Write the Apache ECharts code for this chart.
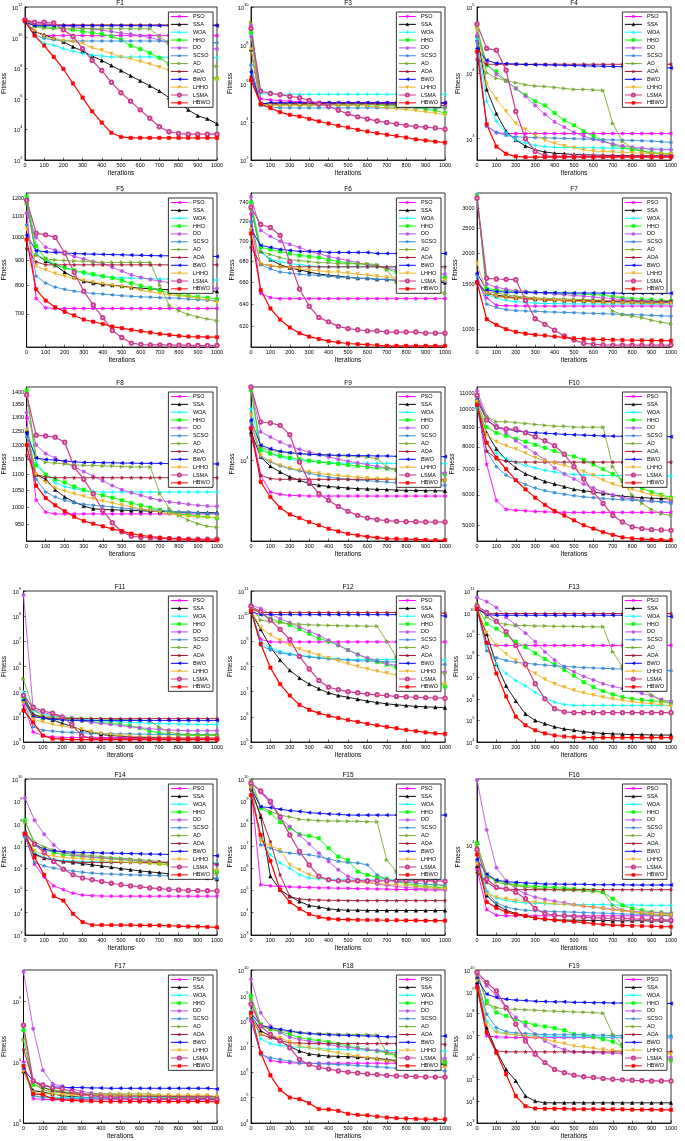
<!DOCTYPE html>
<html>
<head>
<meta charset="utf-8">
<title>Convergence curves F1-F19</title>
<script src="https://cdn.jsdelivr.net/npm/echarts@6/dist/echarts.min.js"></script>
<style>
html,body{margin:0;padding:0;background:#fff;}
#main{width:685px;height:1141px;}
</style>
</head>
<body>
<div id="main"></div>
<script>
// iterations sampled every 50 steps (one marker per point)
var iterations = [0,50,100,150,200,250,300,350,400,450,500,550,600,650,700,750,800,850,900,950,1000];
var algorithms = ['PSO','SSA','WOA','HHO','DO','SCSO','AO','AOA','BWO','LHHO','LSMA','HBWO'];
var panelNames = ['F1','F3','F4','F5','F6','F7','F8','F9','F10','F11','F12','F13','F14','F15','F16','F17','F18','F19'];

// y axis limits and tick labels of every panel
var yRange = [[1e2,1e12],[1e2,1e10],[475,1e5],[600,1230],[602,750],[850,3460],[905,1423],[2900,30800],[4550,11450],
              [1e3,1e9],[1e5,1e11],[1e4,1e11],[1e3,1e10],[1e3,1e10],[2050,31600],[1e3,3.2e5],[1e4,1e10],[1e3,1e10]];
var yTicks = [
  [1e2,1e4,1e6,1e8,1e10,1e12],
  [1e2,1e4,1e6,1e8,1e10],
  [1e3,1e4,1e5],
  [700,800,900,1000,1100,1200],
  [620,640,660,680,700,720,740],
  [1000,1500,2000,2500,3000],
  [950,1000,1050,1100,1150,1200,1250,1300,1350,1400],
  [1e4],
  [5000,6000,7000,8000,9000,10000,11000],
  [1e3,1e4,1e5,1e6,1e7,1e8,1e9],
  [1e5,1e6,1e7,1e8,1e9,1e10,1e11],
  [1e4,1e5,1e6,1e7,1e8,1e9,1e10,1e11],
  [1e3,1e4,1e5,1e6,1e7,1e8,1e9,1e10],
  [1e3,1e4,1e5,1e6,1e7,1e8,1e9,1e10],
  [1e4],
  [1e3,1e4,1e5],
  [1e4,1e5,1e6,1e7,1e8,1e9,1e10],
  [1e3,1e4,1e5,1e6,1e7,1e8,1e9,1e10]
];

// fitness values, order: PSO, SSA, WOA, HHO, DO, SCSO, AO, AOA, BWO, LHHO, LSMA, HBWO
var F1 = [
  [1.5e11,2.5e10,1.4e10,1.35e10,1.35e10,1.35e10,1.35e10,1.35e10,1.35e10,1.35e10,1.35e10,1.35e10,1.35e10,1.35e10,1.35e10,1.35e10,1.35e10,1.35e10,1.35e10,1.35e10,1.35e10],
  [1.2e11,2.5e10,1.5e10,9e9,5.4e9,2.5e9,1.3e9,6.3e8,3.2e8,1.5e8,7e7,3.2e7,1.5e7,7e6,3.2e6,1.2e6,5.4e5,1.9e5,7.8e4,4.9e4,2.3e4],
  [1.2e11,1.5e10,4.2e9,3.2e9,1.9e9,1.3e9,9e8,7e8,6.3e8,5.4e8,5.4e8,5.4e8,5.4e8,5.4e8,5.2e8,5.2e8,5.2e8,5e8,5e8,5e8,4.9e8],
  [1.2e11,6e10,5e10,4.6e10,4e10,3.3e10,2.5e10,2.1e10,1.7e10,1.2e10,7.5e9,3e9,1.8e9,1e9,4.8e8,1.9e8,1.2e8,7e7,4.9e7,3.2e7,2.1e7],
  [1.5e11,9e10,8e10,7e10,6e10,5.5e10,4.2e10,3.6e10,3.1e10,2.5e10,2e10,1.7e10,1.35e10,1e10,7e9,4.2e9,3.2e9,2.5e9,2.1e9,1.9e9,1.8e9],
  [1.2e11,1.5e10,9e9,7e9,6.3e9,6e9,6e9,6e9,6e9,6e9,6e9,6e9,6e9,6e9,6e9,5.8e9,5.6e9,5.4e9,5.2e9,5e9,4.6e9],
  [1.5e11,5.2e10,4.2e10,3.8e10,3.8e10,3.8e10,3.8e10,3.8e10,3.8e10,3.8e10,3.8e10,3.8e10,3.8e10,3.8e10,1.2e10,4.2e9,1.2e9,4.2e8,2.5e8,1.7e8,1.3e8],
  [1.5e11,6.8e10,6.8e10,6.8e10,6.8e10,6.8e10,6.8e10,6.8e10,6.8e10,6.8e10,6.8e10,6.8e10,6.8e10,6.8e10,6.8e10,6.8e10,6.8e10,6.8e10,6.8e10,6.8e10,6.8e10],
  [1e11,6e10,6e10,6e10,6e10,6e10,6e10,6e10,6e10,6e10,6e10,6e10,6e10,6e10,6e10,6e10,6e10,6e10,6e10,6e10,6e10],
  [1.2e11,2.8e10,1.2e10,8e9,6.3e9,5.4e9,4.2e9,2.1e9,1.5e9,9e8,5.4e8,4.2e8,2.8e8,1.9e8,1.2e8,7e7,4.9e7,4.2e7,3.2e7,2.5e7,1.9e7],
  [1.5e11,1e11,1e11,9e10,3.2e10,1.2e10,1.9e9,3.2e8,7e7,1.2e7,2.5e6,7e5,1.9e5,5.4e4,1.5e4,7e3,5.4e3,4.9e3,4.9e3,4.9e3,4.9e3],
  [1.2e11,1.35e10,3e9,5.4e8,9e7,1e7,1.2e6,1.5e5,2.8e4,6e3,3.2e3,2.8e3,2.8e3,2.8e3,2.8e3,2.8e3,2.8e3,2.8e3,2.8e3,2.8e3,2.8e3]
];
var F3 = [
  [3.2e8,1.6e5,1.4e5,1.26e5,1.2e5,1.1e5,1.05e5,1.05e5,1e5,1e5,1e5,1e5,1e5,1e5,1e5,9.8e4,9.8e4,9.6e4,9.6e4,9.5e4,9.5e4],
  [6e7,9e4,8.5e4,8.5e4,8.5e4,8.5e4,8.5e4,8.5e4,8.5e4,8.5e4,8.5e4,8.5e4,8.5e4,8.5e4,8.2e4,8e4,7.8e4,7.6e4,7.4e4,7.2e4,7e4],
  [3.8e8,3e5,2.75e5,2.75e5,2.75e5,2.75e5,2.75e5,2.75e5,2.75e5,2.75e5,2.75e5,2.75e5,2.75e5,2.75e5,2.75e5,2.75e5,2.75e5,2.75e5,2.75e5,2.75e5,2.75e5],
  [4.7e8,8.5e4,7.8e4,7.8e4,7.8e4,7.8e4,7.8e4,7.8e4,7.8e4,7.8e4,7.8e4,7.8e4,7.8e4,7.5e4,7e4,6.5e4,5.9e4,5.3e4,4.6e4,3.9e4,2.8e4],
  [1.1e9,9e4,8.2e4,8.2e4,8.2e4,8.2e4,8.2e4,8.2e4,8.2e4,8.2e4,8.2e4,8.2e4,8.2e4,8.2e4,8.2e4,8.2e4,8.2e4,8.2e4,8.2e4,7.5e4,7e4],
  [9.5e6,7e4,6e4,5.3e4,5.3e4,5.3e4,5.3e4,5.3e4,5.3e4,5.3e4,5.3e4,5.3e4,5.3e4,5.3e4,5.3e4,5.3e4,5.3e4,5.3e4,5.3e4,5.3e4,5.3e4],
  [1.55e9,8.5e4,8.5e4,8.5e4,8.5e4,8.5e4,8.5e4,8.5e4,8.5e4,8.5e4,8.5e4,8.5e4,8.5e4,8.5e4,7.5e4,7e4,6.5e4,6.2e4,5.9e4,5.6e4,5.3e4],
  [2.2e6,9e4,9e4,9e4,9e4,9e4,9e4,9e4,9e4,9e4,9e4,9e4,9e4,9e4,9e4,9e4,9e4,9e4,9e4,9e4,9e4],
  [4e6,8.5e4,1e5,1e5,1e5,1e5,1e5,1e5,1e5,1e5,1e5,1e5,1e5,1e5,1e5,1e5,1e5,1e5,1e5,1e5,1e5],
  [6.2e7,7.8e4,7e4,7e4,7e4,7e4,7e4,7e4,7e4,7e4,7e4,7e4,6.5e4,6e4,5.3e4,4.8e4,4.3e4,3.8e4,3.3e4,2.8e4,2.3e4],
  [7.6e8,4e5,3e5,2.6e5,2.1e5,1.8e5,1.3e5,8.5e4,6.5e4,4e4,2.6e4,1.8e4,1.4e4,1.1e4,9.1e3,7.6e3,6.5e3,5.6e3,5.2e3,4.7e3,4.1e3],
  [1.5e6,8.5e4,5.2e4,3.2e4,2.3e4,1.9e4,1.4e4,1.05e4,8.1e3,6.2e3,5e3,3.8e3,3.1e3,2.5e3,2.1e3,1.8e3,1.5e3,1.2e3,1.05e3,910,810]
];
var F4 = [
  [3e4,1550,1230,1200,1200,1200,1200,1200,1200,1200,1200,1200,1200,1200,1200,1200,1200,1200,1200,1200,1200],
  [3.7e4,5.6e3,2.4e3,1.3e3,955,775,675,630,600,590,575,570,565,560,558,555,553,552,551,550,550],
  [3.3e4,3.7e3,1.85e3,1.23e3,955,860,790,760,740,735,735,730,730,725,720,715,710,705,700,695,690],
  [5e4,1.3e4,1.05e4,7.6e3,5.8e3,4.6e3,3.7e3,3.2e3,2.45e3,1.9e3,1.6e3,1.3e3,1.1e3,930,810,740,680,650,620,600,590],
  [3.7e4,1.4e4,9.5e3,7.6e3,5.8e3,4.4e3,3.2e3,2.35e3,1.8e3,1.5e3,1.25e3,1.1e3,980,910,830,780,740,720,690,680,680],
  [3e4,1.55e3,1.25e3,1.12e3,1.07e3,1.05e3,1.04e3,1.03e3,1.02e3,1.01e3,1e3,990,980,970,960,950,940,930,920,900,880],
  [5e4,1e4,8.3e3,7.6e3,7.1e3,6.6e3,6.3e3,6.2e3,6e3,5.8e3,5.6e3,5.6e3,5.5e3,5.4e3,1.7e3,910,720,650,600,590,575],
  [1.6e4,1.35e4,1.35e4,1.35e4,1.35e4,1.35e4,1.35e4,1.35e4,1.35e4,1.35e4,1.35e4,1.35e4,1.35e4,1.35e4,1.35e4,1.35e4,1.35e4,1.35e4,1.35e4,1.35e4,1.35e4],
  [2.35e4,1.55e4,1.4e4,1.38e4,1.36e4,1.34e4,1.33e4,1.32e4,1.31e4,1.3e4,1.29e4,1.28e4,1.27e4,1.26e4,1.25e4,1.24e4,1.23e4,1.22e4,1.21e4,1.2e4,1.19e4],
  [4.7e4,6.8e3,4e3,2.6e3,1.7e3,1.38e3,1.12e3,950,850,780,730,680,650,640,630,620,610,600,590,585,580],
  [5.5e4,2.35e4,2.2e4,1.1e4,2.6e3,1e3,640,550,540,540,540,540,540,540,540,540,540,540,540,540,540],
  [2.1e4,1.65e3,760,590,540,525,525,525,525,525,525,525,525,525,525,525,525,525,525,525,525]
];
var F5 = [
  [1120,752,720,718,718,718,718,718,718,718,718,718,718,718,718,718,718,718,718,718,718],
  [1180,925,895,878,850,830,815,808,803,800,797,792,789,787,785,784,782,781,780,779,778],
  [1180,925,900,880,870,855,845,838,833,830,828,827,826,825,824,823,822,821,821,820,820],
  [1210,960,905,880,868,858,850,843,835,828,818,808,798,790,780,772,766,762,758,755,750],
  [1120,1000,955,942,930,915,905,893,885,870,855,840,830,822,815,810,805,800,797,792,788],
  [1060,835,808,793,785,778,774,770,768,765,762,760,758,757,755,754,753,750,748,746,745],
  [1170,920,905,900,898,896,895,892,890,890,890,890,890,890,800,728,710,698,690,684,678],
  [950,892,880,880,880,880,880,880,880,880,880,880,880,880,880,880,880,880,880,880,880],
  [1010,940,935,932,930,928,926,925,924,923,922,921,920,919,918,918,917,917,916,916,915],
  [1040,875,860,845,835,825,818,812,806,800,795,790,782,776,770,765,762,758,752,748,740],
  [1190,1020,1012,1000,930,850,778,730,688,648,627,611,607,606,606,605,605,605,604,604,604],
  [990,785,745,722,707,695,682,675,668,660,655,650,646,642,638,635,632,630,629,628,628]
];
var F6 = [
  [728,650,646,645,645,645,645,645,645,645,645,645,645,645,645,645,645,645,645,645,645],
  [735,690,682,677,674,672,670,668,667,666,665,664,664,663,663,662,662,661,661,660,660],
  [735,690,682,680,678,677,676,675,675,675,675,675,675,675,675,675,675,675,675,675,675],
  [740,694,692,690,688,686,685,684,682,680,679,678,677,676,673,670,668,667,666,665,665],
  [746,711,705,700,697,694,690,688,685,683,681,679,677,676,674,672,671,670,669,668,668],
  [720,677,673,670,669,668,667,667,666,665,665,664,664,663,663,662,662,662,661,661,661],
  [733,690,687,684,682,681,680,679,679,678,678,678,678,677,672,660,657,655,653,651,650],
  [694,678,676,675,675,675,675,675,675,675,675,675,675,675,675,675,675,675,675,675,675],
  [712,696,694,692,691,690,690,690,689,689,689,689,689,688,688,688,688,688,688,688,688],
  [712,678,676,675,674,673,672,671,670,670,669,668,667,666,665,664,664,663,663,662,662],
  [735,717,714,706,680,654,638,628,624,620,618,617,616,616,615,615,615,615,614,614,614],
  [708,653,636,626,619,614,611,609,607,606,605,604.5,604,603.5,603,603,603,603,603,603,603]
];
var F7 = [
  [1540,1330,1242,1238,1236,1235,1235,1235,1235,1235,1235,1235,1235,1235,1235,1235,1235,1235,1235,1235,1235],
  [1540,1380,1362,1348,1330,1322,1312,1305,1300,1297,1293,1290,1287,1285,1283,1282,1281,1280,1280,1279,1279],
  [3430,1370,1330,1300,1285,1275,1268,1264,1262,1260,1259,1258,1258,1257,1257,1256,1256,1256,1255,1255,1255],
  [3340,1450,1430,1420,1410,1405,1400,1395,1390,1385,1380,1375,1370,1365,1345,1330,1320,1315,1310,1300,1295],
  [3300,1510,1465,1440,1420,1410,1400,1390,1380,1370,1360,1350,1340,1330,1320,1310,1300,1295,1290,1285,1280],
  [1640,1255,1220,1195,1185,1180,1177,1172,1168,1165,1162,1158,1155,1152,1148,1145,1142,1138,1135,1130,1125],
  [3400,1410,1390,1370,1350,1340,1330,1323,1320,1316,1313,1310,1306,1302,1180,1140,1125,1110,1085,1065,1050],
  [1530,1400,1350,1338,1330,1322,1315,1310,1305,1302,1300,1298,1296,1295,1294,1293,1292,1291,1290,1290,1290],
  [1665,1430,1410,1402,1398,1396,1395,1394,1393,1392,1391,1390,1390,1389,1389,1388,1388,1388,1387,1387,1387],
  [1830,1390,1350,1330,1322,1318,1312,1305,1300,1295,1290,1285,1280,1276,1272,1270,1268,1265,1263,1261,1260],
  [3300,1590,1580,1575,1570,1300,1100,1045,990,940,905,880,870,866,865,865,865,865,865,865,865],
  [1530,1095,1040,1000,975,960,950,944,935,928,920,916,912,910,908,906,904,903,902,901,900]
];
var F8 = [
  [1300,1020,985,980,980,980,980,980,980,980,980,980,980,980,980,980,980,980,980,980,980],
  [1250,1100,1085,1052,1030,1015,1003,995,993,992,991,990,989,988,987,986,985,985,984,984,983],
  [1260,1140,1100,1075,1062,1055,1050,1047,1045,1045,1045,1045,1045,1045,1045,1045,1045,1045,1045,1045,1045],
  [1410,1130,1100,1085,1075,1062,1052,1042,1035,1028,1020,1012,1005,998,992,985,980,977,974,972,968],
  [1320,1200,1170,1155,1140,1125,1110,1095,1080,1065,1052,1043,1035,1027,1020,1015,1012,1008,1005,1003,1002],
  [1230,1085,1045,1030,1020,1013,1008,1005,1003,1000,997,995,993,992,990,988,986,985,983,982,980],
  [1400,1160,1140,1138,1135,1132,1130,1130,1128,1128,1126,1125,1125,1125,1040,995,975,962,952,945,942],
  [1165,1100,1092,1090,1090,1090,1090,1090,1090,1090,1090,1090,1090,1090,1090,1090,1090,1090,1090,1090,1090],
  [1240,1155,1150,1148,1145,1142,1140,1140,1139,1139,1138,1138,1137,1137,1137,1136,1136,1136,1135,1135,1135],
  [1255,1100,1075,1058,1048,1040,1032,1025,1018,1012,1006,1000,995,990,985,980,976,973,971,970,970],
  [1390,1235,1232,1228,1210,1125,1085,1040,990,955,930,918,915,913,912,911,911,910,910,910,910],
  [1200,1065,1027,1005,988,972,960,952,945,938,932,925,920,917,914,912,910,909,908,907,907]
];
var F9 = [
  [16680,7940,6150,5930,5840,5810,5780,5780,5780,5780,5780,5780,5780,5780,5780,5780,5780,5780,5780,5780,5780],
  [15450,10520,9120,8360,7740,7360,6990,6810,6700,6610,6540,6470,6440,6410,6380,6340,6310,6310,6280,6280,6240],
  [22100,12260,11080,10520,10150,9950,9850,9750,9650,9600,9550,9550,9550,9550,9550,9550,9550,9550,9550,9550,9500],
  [29300,11660,11080,10690,10420,10150,9950,9750,9600,9450,9310,9170,9030,8940,8800,8660,8530,8400,8270,8190,8070],
  [30000,15500,14300,13250,12450,11840,11360,10960,10520,10150,9850,9600,9360,9120,8890,8710,8580,8490,8400,8310,8230],
  [18000,10520,9750,9170,8800,8490,8190,7940,7740,7580,7470,7390,7320,7240,7170,7100,7020,6990,6950,6880,6810],
  [30000,12260,11660,11360,11190,11080,10960,10900,10800,10740,10690,10630,10520,10260,9030,8580,8270,7940,7660,7430,7240],
  [14680,7940,7550,7470,7470,7470,7470,7470,7470,7470,7470,7470,7470,7470,7470,7470,7470,7470,7470,7470,7470],
  [18500,12590,11960,11480,11240,11080,10960,10900,10850,10800,10800,10740,10740,10690,10690,10630,10630,10630,10580,10580,10580],
  [20150,10800,9850,9260,8890,8620,8360,8190,8020,7900,7780,7700,7620,7550,7510,7470,7430,7390,7390,7360,7360],
  [30800,18000,17730,17100,14820,9750,7170,5990,5410,4930,4570,4300,4130,4020,3960,3920,3900,3900,3880,3880,3880],
  [16250,7170,5700,4830,4360,4130,3880,3690,3500,3360,3240,3160,3100,3050,3010,3000,2980,2970,2950,2940,2940]
];
var F10 = [
  [10500,7200,5800,5500,5470,5450,5430,5420,5410,5400,5400,5400,5400,5400,5400,5400,5400,5400,5400,5400,5400],
  [10300,8700,7900,7400,7050,6800,6650,6500,6400,6300,6200,6150,6100,6050,6000,5950,5920,5900,5880,5870,5850],
  [10400,8200,7700,7450,7300,7150,7050,6950,6880,6820,6780,6760,6750,6740,6740,6730,6730,6730,6720,6720,6720],
  [10500,9000,8700,8550,8400,8250,8100,7950,7800,7650,7550,7400,7200,7000,6800,6550,6400,6250,6100,6000,5900],
  [11200,9600,9100,8700,8300,8000,7700,7400,7050,6800,6600,6400,6250,6100,6000,5900,5850,5800,5780,5760,5750],
  [10100,7800,7100,6750,6550,6380,6250,6150,6080,6020,5970,5930,5900,5870,5850,5830,5810,5790,5770,5750,5700],
  [10700,9600,9300,9300,9250,9200,9150,9100,9050,9050,9000,9000,9000,9000,7100,6500,6000,5700,5500,5350,5300],
  [10300,7800,7450,7350,7300,7300,7300,7300,7300,7300,7300,7300,7300,7300,7300,7300,7300,7300,7300,7300,7300],
  [10600,9400,9000,8900,8800,8750,8700,8680,8650,8620,8600,8580,8560,8540,8530,8520,8510,8505,8500,8500,8500],
  [10500,8600,8250,8050,7900,7700,7500,7350,7250,7150,7050,6900,6750,6550,6400,6300,6200,6100,6000,5950,5850],
  [10900,9400,9000,8900,8900,8700,8500,8300,8050,7650,7100,6600,6100,5700,5300,5100,4950,4900,4870,4860,4850],
  [10300,8200,7500,7000,6550,6200,5900,5650,5450,5300,5150,5000,4900,4800,4720,4650,4620,4600,4590,4580,4570]
];
var F11 = [
  [3e4,2.5e3,1.8e3,1.6e3,1.5e3,1.5e3,1.5e3,1.5e3,1.5e3,1.5e3,1.5e3,1.5e3,1.5e3,1.5e3,1.5e3,1.5e3,1.5e3,1.5e3,1.5e3,1.5e3,1.5e3],
  [5e4,1.3e4,9e3,7.5e3,5.5e3,4.2e3,3e3,2.4e3,2e3,1.8e3,1.7e3,1.6e3,1.55e3,1.5e3,1.5e3,1.45e3,1.45e3,1.4e3,1.4e3,1.4e3,1.4e3],
  [9.5e4,1.8e4,1.3e4,1.1e4,9.5e3,8.5e3,8e3,7.5e3,7e3,6.6e3,6.3e3,6e3,5.8e3,5.6e3,5.4e3,5.3e3,5.2e3,5.1e3,5e3,5e3,5e3],
  [5e4,1.1e4,9e3,8.5e3,8e3,7.5e3,7e3,6.5e3,6e3,5.5e3,5e3,4.5e3,3.6e3,2.8e3,2.3e3,2e3,1.9e3,1.8e3,1.8e3,1.8e3,1.8e3],
  [7e8,2e4,1.5e4,1.2e4,1e4,9e3,7e3,6e3,5.5e3,5e3,4.5e3,4e3,3.7e3,3.4e3,3.2e3,3e3,2.9e3,2.8e3,2.8e3,2.8e3,2.8e3],
  [4e4,4e3,2.9e3,2.7e3,2.5e3,2.4e3,2.3e3,2.25e3,2.2e3,2.15e3,2.1e3,2.1e3,2.05e3,2.05e3,2e3,2e3,2e3,2e3,2e3,2e3,2e3],
  [3.2e5,1.9e4,1.1e4,1e4,9.5e3,9e3,8.8e3,8.5e3,8.3e3,8e3,7.8e3,7.5e3,7.3e3,7e3,4e3,2.5e3,2.1e3,2e3,1.95e3,1.9e3,1.9e3],
  [7e4,1.2e4,1e4,8.5e3,8.5e3,8.5e3,8.5e3,8.5e3,8.5e3,8.5e3,8.5e3,8.5e3,8.5e3,8.5e3,8.5e3,8.5e3,8.5e3,8.5e3,8.5e3,8.5e3,8.5e3],
  [4.5e4,1e4,9e3,8e3,7.5e3,7.2e3,7.2e3,7.2e3,7.2e3,7.2e3,7.2e3,7.2e3,7.2e3,7.2e3,7.2e3,7.2e3,7.2e3,7.2e3,7.2e3,7.2e3,7.2e3],
  [3.5e4,8e3,6.3e3,5e3,4.3e3,3.8e3,3.2e3,2.6e3,2.2e3,2e3,1.8e3,1.7e3,1.6e3,1.6e3,1.55e3,1.55e3,1.5e3,1.5e3,1.5e3,1.5e3,1.5e3],
  [7e4,2.4e4,1.7e4,1.4e4,1e4,5e3,1.8e3,1.4e3,1.35e3,1.35e3,1.35e3,1.35e3,1.35e3,1.35e3,1.35e3,1.35e3,1.35e3,1.35e3,1.35e3,1.35e3,1.35e3],
  [1.8e4,6e3,1.8e3,1.35e3,1.3e3,1.25e3,1.25e3,1.25e3,1.25e3,1.25e3,1.25e3,1.25e3,1.25e3,1.25e3,1.25e3,1.25e3,1.25e3,1.25e3,1.25e3,1.25e3,1.25e3]
];
var F12 = [
  [1.5e10,1.2e9,9.5e8,9.5e8,9.5e8,9.5e8,9.5e8,9.5e8,9.5e8,9.5e8,9.5e8,9.5e8,9.5e8,9.5e8,9.5e8,9.5e8,9.5e8,9.5e8,9.5e8,9.5e8,9.5e8],
  [1.5e10,3e9,6e8,1.8e8,7e7,3.5e7,2e7,1.3e7,9e6,7e6,6e6,5e6,4.2e6,3.7e6,3.3e6,3e6,2.8e6,2.6e6,2.5e6,2.4e6,2.3e6],
  [2e10,1e9,5.5e8,4e8,3.2e8,2.8e8,2.5e8,2.3e8,2.1e8,2e8,1.9e8,1.9e8,1.9e8,1.9e8,1.9e8,1.9e8,1.9e8,1.9e8,1.9e8,1.9e8,1.8e8],
  [2.5e10,1.2e10,8e9,6e9,4.5e9,3e9,2e9,1.3e9,1e9,7e8,4.5e8,3e8,2e8,1.5e8,1.2e8,9e7,7e7,5e7,4e7,3e7,1.6e7],
  [2.8e10,2e10,1.2e10,8e9,5.5e9,3.7e9,2.5e9,1.7e9,1.1e9,7e8,4.5e8,3e8,2.2e8,1.7e8,1.3e8,1.1e8,9e7,8e7,7e7,6.5e7,6e7],
  [1.8e10,7e8,4.5e8,3.5e8,3e8,2.7e8,2.4e8,2.2e8,2e8,1.9e8,1.8e8,1.7e8,1.65e8,1.6e8,1.55e8,1.5e8,1.45e8,1.4e8,1.35e8,1.3e8,1.2e8],
  [2.5e10,7e9,6e9,5.5e9,5e9,4.8e9,4.5e9,4.4e9,4.3e9,4.2e9,4.1e9,4.1e9,4e9,4e9,1e9,2.3e8,1.1e8,9e7,7.5e7,6.5e7,5.4e7],
  [2e10,1.4e10,1.4e10,1.4e10,1.4e10,1.4e10,1.4e10,1.4e10,1.4e10,1.4e10,1.4e10,1.4e10,1.4e10,1.4e10,1.4e10,1.4e10,1.4e10,1.4e10,1.4e10,1.4e10,1.3e10],
  [1.5e10,1.15e10,1.15e10,1.15e10,1.15e10,1.15e10,1.15e10,1.15e10,1.15e10,1.15e10,1.15e10,1.15e10,1.15e10,1.15e10,1.15e10,1.15e10,1.15e10,1.15e10,1.15e10,1.15e10,1e10],
  [1.8e10,3.5e9,1.8e9,1.1e9,7e8,5e8,3.7e8,2.8e8,2.2e8,1.7e8,1.3e8,1e8,8e7,6.5e7,5.5e7,4.5e7,4e7,3.5e7,3e7,2.5e7,2e7],
  [2.5e10,1.5e10,7e9,3e9,1.2e9,2.5e8,8e7,2.8e7,1.5e7,1.2e7,1e7,9e6,8e6,7.5e6,7e6,6.5e6,6.2e6,6e6,5.8e6,5.6e6,5.5e6],
  [1.6e10,8e8,9e7,2e7,7e6,3e6,1.9e6,1.4e6,1.1e6,9e5,7.5e5,6.3e5,5.3e5,4.6e5,4e5,3.5e5,3e5,2.7e5,2.4e5,2.2e5,2.1e5]
];
var F13 = [
  [1.5e10,3.5e8,3e8,3e8,3e8,3e8,3e8,3e8,3e8,3e8,3e8,3e8,3e8,3e8,3e8,3e8,3e8,3e8,3e8,3e8,3e8],
  [1.5e10,1e9,4e7,4e6,8e5,2e5,1e5,7e4,5e4,4e4,3.5e4,3e4,2.7e4,2.5e4,2.4e4,2.3e4,2.2e4,2.2e4,2.1e4,2.1e4,2.1e4],
  [1.5e10,3e8,4e7,1.5e7,7e6,4e6,2e6,1.1e6,7e5,5.5e5,5e5,5e5,5e5,5e5,5e5,5e5,5e5,5e5,5e5,5e5,5e5],
  [2e10,3e9,1.8e9,9e8,4.5e8,2.5e8,1.3e8,7e7,4e7,2.2e7,1.2e7,6e6,3.5e6,2.3e6,1.6e6,1.2e6,1e6,9e5,8e5,7.5e5,7e5],
  [5e10,3.2e10,1.7e10,6e9,2.6e9,1.1e9,4.5e8,1.5e8,6.3e7,3e7,1.8e7,1.1e7,7.5e6,5e6,3.8e6,3e6,2.4e6,1.8e6,1.4e6,9.5e5,7.5e5],
  [1.5e10,1.7e8,8e7,6e7,5e7,4.5e7,4e7,3.7e7,3.4e7,3.2e7,3e7,2.8e7,2.7e7,2.6e7,2.5e7,2.4e7,2.3e7,2.2e7,2.2e7,2.1e7,2e7],
  [2.5e10,6e9,3.5e9,2.8e9,2.5e9,2.5e9,2.4e9,2.4e9,2.3e9,2.3e9,2.3e9,2.2e9,2.2e9,2.2e9,1.5e8,3e7,8e6,3e6,1.5e6,8e5,6e5],
  [1.5e10,9e9,9e9,9e9,9e9,9e9,9e9,9e9,9e9,9e9,9e9,9e9,9e9,9e9,9e9,9e9,9e9,9e9,9e9,9e9,9e9],
  [1.5e10,8e9,7.5e9,7.5e9,7.5e9,7.5e9,7.5e9,7.5e9,7.5e9,7.5e9,7.5e9,7.5e9,7.5e9,7.5e9,7.5e9,7.5e9,7.5e9,7.5e9,7.5e9,7.5e9,6.5e9],
  [1.6e10,1.2e9,3e8,1.2e8,6e7,3e7,1.5e7,8e6,5e6,3.5e6,2.5e6,1.9e6,1.5e6,1.2e6,1e6,8.5e5,7.5e5,6.5e5,6e5,5.5e5,4.5e5],
  [2e10,1e10,4e9,1.3e9,3e8,4e7,5e6,1e6,3.5e5,2.5e5,2.3e5,2.3e5,2.3e5,2.3e5,2.3e5,2.3e5,2.3e5,2.3e5,2.3e5,2.3e5,2.3e5],
  [1.5e10,4e8,1.5e7,1.3e6,1.5e5,6e4,3.5e4,2.5e4,2e4,1.8e4,1.7e4,1.6e4,1.6e4,1.6e4,1.6e4,1.6e4,1.6e4,1.6e4,1.6e4,1.6e4,1.6e4]
];
var F14 = [
  [3e7,1.5e6,4e5,1.6e5,1.1e5,7.5e4,6.2e4,5.8e4,5.6e4,5.5e4,5.5e4,5.5e4,5.5e4,5.5e4,5.5e4,5.5e4,5.5e4,5.5e4,5.5e4,5.5e4,5.5e4],
  [3e7,4.5e6,2.8e6,2.4e6,2e6,1.8e6,1.6e6,1.4e6,1.25e6,1.1e6,9.5e5,8.5e5,7.5e5,6.8e5,6.2e5,5.6e5,5e5,4.5e5,4e5,3.6e5,3.2e5],
  [3e7,5e6,3e6,2.5e6,2.2e6,2.1e6,2e6,1.95e6,1.9e6,1.85e6,1.8e6,1.8e6,1.8e6,1.8e6,1.8e6,1.8e6,1.8e6,1.8e6,1.8e6,1.8e6,1.7e6],
  [1.4e8,1.1e7,7e6,5e6,4e6,3.6e6,3.3e6,3e6,2.8e6,2.6e6,2.4e6,2.2e6,2e6,1.8e6,1.6e6,1.4e6,1.2e6,1e6,9e5,8e5,7e5],
  [1.4e9,1.4e8,3.3e7,1.1e7,5e6,4e6,3.4e6,3.1e6,2.9e6,2.7e6,2.5e6,2.3e6,2.1e6,2e6,1.9e6,1.8e6,1.7e6,1.6e6,1.5e6,1.45e6,1.4e6],
  [2.5e7,1.8e6,1.26e6,1e6,8.5e5,7.4e5,6.5e5,6e5,5.6e5,5.4e5,5.2e5,5e5,4.9e5,4.8e5,4.6e5,4.5e5,4.3e5,4.2e5,4e5,3.8e5,3.5e5],
  [1.2e8,1.5e7,9e6,6.5e6,5e6,4.5e6,4e6,3.6e6,3.3e6,3e6,2.8e6,2.6e6,2.4e6,2.2e6,2e6,1.5e6,1e6,8e5,7e5,6e5,5.5e5],
  [3.5e7,4e6,2.8e6,2.3e6,2e6,1.9e6,1.8e6,1.8e6,1.8e6,1.8e6,1.8e6,1.8e6,1.8e6,1.8e6,1.8e6,1.8e6,1.8e6,1.8e6,1.8e6,1.8e6,1.5e6],
  [4e7,1.2e7,7e6,6e6,5.5e6,5.2e6,5e6,4.9e6,4.8e6,4.7e6,4.6e6,4.5e6,4.4e6,4.3e6,4.2e6,4.1e6,4e6,3.9e6,3.8e6,3.7e6,3.6e6],
  [3e7,6e6,4e6,3.5e6,3e6,2.8e6,2.6e6,2.4e6,2.2e6,2e6,1.9e6,1.8e6,1.7e6,1.6e6,1.5e6,1.4e6,1.3e6,1.2e6,1.1e6,9.5e5,8e5],
  [3.5e7,1.2e7,5e6,2e6,9e5,5e5,3.6e5,3e5,2.5e5,2.1e5,1.8e5,1.6e5,1.45e5,1.3e5,1.2e5,1.1e5,1.05e5,1e5,9.8e4,9.6e4,9.5e4],
  [3.5e7,3e6,5e5,5.5e4,3.5e4,9e3,3.8e3,2.8e3,2.8e3,2.8e3,2.8e3,2.8e3,2.7e3,2.7e3,2.7e3,2.6e3,2.5e3,2.4e3,2.4e3,2.3e3,2.2e3]
];
var F15 = [
  [4.5e9,1.8e5,1.6e5,1.5e5,1.45e5,1.4e5,1.35e5,1.3e5,1.3e5,1.25e5,1.25e5,1.2e5,1.2e5,1.15e5,1.15e5,1.1e5,1.1e5,1.1e5,1.05e5,1.05e5,1.05e5],
  [3.8e9,2e8,4.3e5,1.07e5,5.4e4,3.2e4,2.1e4,1.8e4,1.5e4,1.35e4,1.3e4,1.3e4,1.26e4,1.26e4,1.26e4,1.26e4,1.26e4,1.26e4,1.26e4,1.26e4,1.26e4],
  [5e9,1.85e7,4e6,1.7e6,1e6,5e5,3.6e5,3.3e5,3.2e5,3.1e5,3e5,3e5,3e5,3e5,3e5,3e5,3e5,3e5,3e5,3e5,3e5],
  [5.4e9,4.9e8,2.9e8,1.15e8,6.2e7,3.3e7,2.8e7,2.2e7,7.9e6,3.3e6,2.3e6,7e5,5e5,3.8e5,3.3e5,2.5e5,2e5,1.7e5,1.5e5,1.4e5,1.26e5],
  [7.6e9,2.5e9,8e8,1.74e8,7.4e7,3.1e7,1.23e7,4.7e6,2e6,8.5e5,4.3e5,3e5,2.35e5,1.9e5,1.7e5,1.5e5,1.35e5,1.26e5,1.17e5,1.13e5,1.07e5],
  [6.4e9,1.1e7,7.9e6,5.6e6,4.7e6,4.3e6,4e6,3.3e6,2.6e6,2e6,1.8e6,1.7e6,1.4e6,5e5,3e5,2.5e5,2.35e5,2.1e5,1.9e5,1.8e5,1.7e5],
  [9e9,5.7e8,3.5e8,2.4e8,2e8,1.55e8,1.45e8,1.35e8,1.3e8,1.3e8,1.27e8,1.27e8,1.2e8,1.2e8,2.3e6,7e5,5e5,4e5,3.3e5,2.1e5,1.5e5],
  [3.2e9,2.4e8,1.55e7,5e5,5.4e4,4.1e4,3.8e4,3.7e4,3.6e4,3.6e4,3.5e4,3.5e4,3.5e4,3.5e4,3.5e4,3.5e4,3.5e4,3.5e4,3.5e4,3.5e4,3.5e4],
  [3.8e9,5.7e8,5.2e8,4.4e8,3.8e8,3.5e8,3.1e8,2.9e8,2.7e8,2.6e8,2.4e8,2.4e8,2.4e8,2.4e8,2.4e8,2.4e8,2.4e8,2.4e8,2.4e8,2.4e8,2.4e8],
  [3.8e9,1.66e7,1e7,6.6e6,1.4e6,8.5e5,5e5,3.6e5,3e5,2.7e5,2.5e5,2.35e5,2.2e5,2.05e5,1.9e5,1.8e5,1.7e5,1.5e5,1.35e5,1.26e5,1.13e5],
  [6.4e9,2.9e9,1e9,2e8,3.1e7,5.6e6,1.4e6,4.3e5,3e5,2.7e5,2.7e5,2.7e5,2.7e5,2.7e5,2.7e5,2.7e5,2.7e5,2.7e5,2.7e5,2.7e5,2.6e5],
  [1.9e9,3.1e7,2.1e6,1.07e5,3e4,1.5e4,8.7e3,6.4e3,5.4e3,5e3,4.9e3,4.8e3,4.7e3,4.7e3,4.6e3,4.6e3,4.5e3,4.5e3,4.4e3,4.4e3,4.4e3]
];
var F16 = [
  [6490,3200,2900,2870,2870,2870,2870,2870,2870,2870,2870,2870,2870,2870,2870,2870,2870,2870,2870,2870,2870],
  [6880,4100,3490,3160,2990,2870,2760,2710,2680,2660,2660,2650,2650,2650,2630,2630,2630,2630,2620,2620,2620],
  [8420,4470,3910,3760,3650,3610,3570,3550,3530,3510,3510,3490,3490,3490,3470,3470,3470,3450,3450,3450,3450],
  [10300,5790,5310,5100,4950,4870,4810,4760,4700,4650,4600,4540,4490,4340,3870,3450,3260,3160,3070,3040,2990],
  [31100,12960,6680,5310,4600,4220,3980,3830,3700,3610,3490,3410,3350,3290,3220,3160,3110,3070,3040,3020,2990],
  [7500,4340,3610,3350,3220,3160,3130,3110,3090,3070,3060,3040,3020,3010,2990,2960,2950,2940,2920,2900,2900],
  [9720,5960,5160,5010,4870,4730,4650,4600,4540,4490,4470,4440,4390,4340,3450,3160,3070,2990,2940,2900,2900],
  [6130,5160,4650,4600,4540,4540,4540,4540,4540,4540,4540,4540,4540,4540,4540,4540,4540,4540,4540,4540,4540],
  [7720,5960,5370,5220,5160,5100,5070,5010,5010,4990,4990,4990,4950,4950,4950,4950,4930,4930,4930,4930,4930],
  [7080,4220,3980,3870,3760,3700,3650,3590,3530,3490,3450,3390,3330,3260,3180,3130,3070,3020,2960,2940,2900],
  [9170,5470,4730,4600,4340,3870,3260,2990,2900,2870,2830,2800,2780,2760,2750,2740,2720,2710,2690,2680,2660],
  [8420,3650,3300,3070,2940,2870,2760,2710,2660,2620,2590,2560,2500,2470,2440,2430,2410,2400,2390,2370,2370]
];
var F17 = [
  [1e4,2.5e3,2.45e3,2.4e3,2.4e3,2.4e3,2.4e3,2.4e3,2.4e3,2.4e3,2.4e3,2.4e3,2.4e3,2.4e3,2.4e3,2.4e3,2.4e3,2.4e3,2.4e3,2.4e3,2.35e3],
  [7e3,3.4e3,3.2e3,3e3,2.8e3,2.7e3,2.65e3,2.6e3,2.6e3,2.55e3,2.55e3,2.55e3,2.5e3,2.5e3,2.5e3,2.5e3,2.5e3,2.5e3,2.5e3,2.5e3,2.5e3],
  [9e3,2.8e3,2.7e3,2.65e3,2.6e3,2.6e3,2.6e3,2.6e3,2.6e3,2.6e3,2.6e3,2.6e3,2.6e3,2.6e3,2.6e3,2.6e3,2.6e3,2.6e3,2.6e3,2.6e3,2.55e3],
  [3.3e4,4.2e3,3.8e3,3.5e3,3.3e3,3.1e3,3e3,2.95e3,2.9e3,2.85e3,2.8e3,2.8e3,2.75e3,2.7e3,2.7e3,2.65e3,2.6e3,2.6e3,2.6e3,2.55e3,2.55e3],
  [3e5,3.5e4,7.3e3,4.4e3,4e3,3.6e3,3.3e3,3.1e3,3e3,2.95e3,2.9e3,2.85e3,2.8e3,2.8e3,2.75e3,2.75e3,2.7e3,2.7e3,2.7e3,2.65e3,2.65e3],
  [7.5e3,2.8e3,2.6e3,2.55e3,2.5e3,2.5e3,2.5e3,2.5e3,2.5e3,2.5e3,2.5e3,2.5e3,2.5e3,2.5e3,2.5e3,2.5e3,2.5e3,2.5e3,2.5e3,2.5e3,2.45e3],
  [2.3e4,4.5e3,3.5e3,3.2e3,3.1e3,3e3,3e3,3e3,3e3,3e3,3e3,3e3,3e3,3e3,2.8e3,2.7e3,2.65e3,2.6e3,2.6e3,2.55e3,2.55e3],
  [1.6e4,4.9e3,3.8e3,3.4e3,3.2e3,3e3,2.9e3,2.8e3,2.8e3,2.75e3,2.75e3,2.75e3,2.75e3,2.75e3,2.75e3,2.75e3,2.75e3,2.75e3,2.75e3,2.75e3,2.7e3],
  [7.6e3,4.9e3,4.1e3,3.9e3,3.85e3,3.8e3,3.8e3,3.75e3,3.75e3,3.7e3,3.7e3,3.7e3,3.7e3,3.7e3,3.7e3,3.7e3,3.7e3,3.7e3,3.7e3,3.7e3,3.6e3],
  [7e3,3.2e3,3e3,2.95e3,2.9e3,2.85e3,2.85e3,2.85e3,2.85e3,2.85e3,2.85e3,2.85e3,2.85e3,2.85e3,2.85e3,2.85e3,2.85e3,2.85e3,2.85e3,2.85e3,2.7e3],
  [4e4,4.9e3,4.2e3,3.8e3,3.6e3,3.3e3,3e3,2.8e3,2.7e3,2.6e3,2.55e3,2.5e3,2.5e3,2.5e3,2.5e3,2.5e3,2.5e3,2.5e3,2.5e3,2.5e3,2.4e3],
  [8.6e3,3e3,2.9e3,2.5e3,2.4e3,2.35e3,2.3e3,2.28e3,2.25e3,2.25e3,2.25e3,2.25e3,2.25e3,2.25e3,2.25e3,2.25e3,2.25e3,2.25e3,2.25e3,2.25e3,2.2e3]
];
var F18 = [
  [1e8,5.6e6,2.8e6,2.5e6,2.3e6,2.2e6,2.2e6,2.2e6,2.2e6,2.2e6,2.2e6,2.2e6,2.2e6,2.2e6,2.2e6,2.2e6,2.2e6,2.2e6,2.2e6,2.2e6,2.1e6],
  [1.8e8,4.1e7,2.6e7,1.6e7,1e7,6.6e6,5.1e6,4.6e6,4.2e6,4.1e6,4e6,3.8e6,3.6e6,3.4e6,3.1e6,2.8e6,2.5e6,2.3e6,2.2e6,2.1e6,1.95e6],
  [2.5e8,2e7,1.3e7,1.1e7,1e7,9.3e6,8.9e6,8.3e6,8e6,7.9e6,7.6e6,7.4e6,7.2e6,7.2e6,6.9e6,6.9e6,6.8e6,6.8e6,6.6e6,6.6e6,6.6e6],
  [9.7e8,7.4e7,4.7e7,3.8e7,3e7,2.2e7,1.9e7,1.7e7,1.5e7,1.26e7,1.02e7,8.9e6,7.6e6,6.6e6,5.6e6,4.2e6,3.1e6,2.6e6,2.4e6,2.3e6,2.3e6],
  [4.4e9,2.1e8,6.3e7,3.5e7,2.3e7,1.9e7,1.6e7,1.4e7,1.2e7,1.02e7,9.3e6,8.3e6,7.6e6,6.9e6,6.2e6,5.6e6,5.1e6,4.6e6,4.2e6,3.8e6,3.4e6],
  [1.2e8,4.8e6,3.6e6,3.1e6,2.6e6,2.3e6,2.2e6,2.1e6,2.05e6,1.95e6,1.9e6,1.8e6,1.7e6,1.6e6,1.5e6,1.4e6,1.35e6,1.3e6,1.27e6,1.2e6,1.1e6],
  [7.2e8,6.3e7,4.7e7,4.3e7,3.8e7,3.5e7,3.3e7,3.2e7,3.1e7,3e7,3e7,2.9e7,2.9e7,2.8e7,5.6e6,4.8e6,4.2e6,3.8e6,3.4e6,3.1e6,2.8e6],
  [1.35e8,3e7,2.2e7,1.7e7,1.4e7,1.37e7,1.3e7,1.3e7,1.3e7,1.3e7,1.3e7,1.3e7,1.3e7,1.3e7,1.3e7,1.3e7,1.3e7,1.3e7,1.3e7,1.3e7,1.2e7],
  [2.1e8,6.7e7,5.5e7,4.7e7,4.1e7,3.5e7,3.2e7,3e7,2.9e7,2.8e7,2.7e7,2.65e7,2.6e7,2.5e7,2.4e7,2.4e7,2.4e7,2.4e7,2.4e7,2.4e7,2.6e7],
  [1.6e8,3e7,2.6e7,2.2e7,1.5e7,1e7,8.9e6,7.6e6,6.6e6,5.6e6,4.8e6,4.2e6,3.6e6,3.1e6,2.6e6,2.5e6,2.3e6,2.1e6,1.8e6,1.65e6,1.5e6],
  [4.6e8,6.3e7,3e7,1.7e7,8.9e6,3.1e6,1.95e6,1.5e6,1.3e6,1.1e6,9.9e5,9.1e5,8.3e5,7.9e5,7.4e5,7e5,6.8e5,6.6e5,6.4e5,6.3e5,6.3e5],
  [2.1e8,5.6e6,7.4e5,2e5,1e5,8.6e4,6e4,3.5e4,3.4e4,3e4,2.3e4,2.1e4,2e4,1.8e4,1.65e4,1.55e4,1.5e4,1.45e4,1.4e4,1.4e4,1.4e4]
];
var F19 = [
  [1.9e9,9.6e6,8.7e6,8.4e6,8.1e6,8.1e6,8.1e6,8.1e6,8.1e6,8.1e6,8.1e6,8.1e6,8.1e6,8.1e6,8.1e6,8.1e6,8.1e6,8.1e6,8.1e6,8.1e6,8.1e6],
  [2.7e9,2.3e7,2e6,2.8e5,8.4e4,1.7e4,1e4,8.4e3,8.4e3,8.4e3,8.4e3,8.4e3,8.4e3,8.4e3,8.4e3,8.4e3,8.4e3,8.4e3,8.4e3,8.4e3,8.4e3],
  [4.6e9,4.7e7,1.6e7,1.25e7,1.1e7,1e7,9.6e6,9.3e6,9e6,9e6,8.7e6,8.7e6,8.7e6,8.4e6,8.4e6,8.4e6,8.4e6,8.1e6,8.1e6,8.1e6,8.1e6],
  [7e9,3.9e8,1.13e8,8e7,5.6e7,4e7,3e7,2.6e7,2.2e7,1.75e7,1.15e7,1.1e7,8.7e6,6.8e6,5.3e6,3.3e6,2.3e6,1.8e6,1.4e6,1.1e6,7.4e5],
  [6.6e9,1.9e9,6.6e8,1.9e8,6.7e7,2.8e7,1.15e7,5.7e6,3.3e6,2.3e6,1.8e6,1.75e6,1.65e6,1.6e6,1.55e6,1.5e6,1.5e6,1.45e6,1.4e6,1.2e6,9.8e5],
  [3.9e9,9.5e7,2.3e7,1.5e7,1.3e7,1.25e7,1.15e7,1.12e7,1.1e7,1.1e7,1.1e7,1.05e7,1.05e7,1.05e7,1e7,1e7,1e7,1e7,9.6e6,9.6e6,9.6e6],
  [9.3e9,2.8e8,1.9e8,1.6e8,1.6e8,1.5e8,1.45e8,1.35e8,1.3e8,1.27e8,1.2e8,1.17e8,1.13e8,1.05e8,1.15e7,4e6,2e6,1.4e6,1.2e6,9.8e5,7.4e5],
  [4.6e9,1.4e7,2e6,1.8e6,1.8e6,1.8e6,1.8e6,1.8e6,1.8e6,1.8e6,1.8e6,1.8e6,1.8e6,1.8e6,1.8e6,1.8e6,1.8e6,1.8e6,1.8e6,1.8e6,1.8e6],
  [3.9e9,7.9e8,5.5e8,4.6e8,4.2e8,4e8,3.7e8,3.6e8,3.5e8,3.5e8,3.3e8,3.3e8,3.2e8,3.2e8,3.1e8,3.1e8,3.1e8,2.95e8,2.95e8,2.95e8,2.95e8],
  [3.2e9,3.3e7,1.4e7,1.15e7,1.05e7,9.3e6,8.1e6,6.8e6,5.3e6,4.3e6,3.3e6,3e6,2.6e6,2.3e6,2.1e6,2e6,1.8e6,1.7e6,1.6e6,1.5e6,1.4e6],
  [7.8e9,2.7e9,1.1e9,1.9e8,3.3e7,5.7e6,1.4e6,5.8e5,2.8e5,2e5,1.55e5,1.3e5,1.2e5,1.1e5,1e5,9.4e4,9e4,8.7e4,8.4e4,8.4e4,8.4e4],
  [1.6e9,1.4e7,1.65e6,1.7e5,1.7e4,5.9e3,4.6e3,4.5e3,4.5e3,4.5e3,4.3e3,4.3e3,4.3e3,4.2e3,4.2e3,4.2e3,4.1e3,4.1e3,4.1e3,4e3,4e3]
];
var panelData = [F1,F3,F4,F5,F6,F7,F8,F9,F10,F11,F12,F13,F14,F15,F16,F17,F18,F19];

// ---- styling ----
var lineColors = ['#ff00ff','#000000','#00ffff','#00ff00','#c050e8','#3a8ed8','#77ac30','#a2142f','#0000ff','#edb120','#cc3d8f','#ff0000'];
var asterisk = 'path://M-0.6,-5H0.6V-1.2L4.1,-3.2L4.7,-2.2L1.2,0L4.7,2.2L4.1,3.2L0.6,1.2V5H-0.6V1.2L-4.1,3.2L-4.7,2.2L-1.2,0L-4.7,-2.2L-4.1,-3.2L-0.6,-1.2Z';
var plus = 'path://M-0.8,-5H0.8V-0.8H5V0.8H0.8V5H-0.8V0.8H-5V-0.8H-0.8Z';
var hexagram = 'path://M0,-5L1.44,-2.5L4.33,-2.5L2.89,0L4.33,2.5L1.44,2.5L0,5L-1.44,2.5L-4.33,2.5L-2.89,0L-4.33,-2.5L-1.44,-2.5Z';
var pentagram = 'path://M0,-5L1.18,-1.62L4.76,-1.55L1.9,0.62L2.94,4.05L0,2L-2.94,4.05L-1.9,0.62L-4.76,-1.55L-1.18,-1.62Z';
var markers = [asterisk,'triangle',plus,'rect','circle',hexagram,'triangle',pentagram,'triangle','triangle','emptyCircle','rect'];
var markerRotate = [0,0,0,0,0,0,-90,0,90,180,0,0];

var colLeft = [23, 251, 477];
var plotWidth = 194;
var rowTop = [7, 193, 387, 591, 779, 970];
var rowHeight = [153, 154, 154, 151, 156, 154];
var fontName = 'Liberation Sans, Arial, sans-serif';

var grids = [], xAxes = [], yAxes = [], titles = [], legends = [], series = [];

panelNames.forEach(function (name, i) {
    var col = i % 3, row = Math.floor(i / 3);
    var left = colLeft[col], top = rowTop[row], h = rowHeight[row];
    var ticks = yTicks[i];
    var decade = ticks.every(function (v) {
        var e = Math.log10(v);
        return Math.abs(e - Math.round(e)) < 1e-9;
    });

    grids.push({left: left, top: top, width: plotWidth, height: h, show: true,
        borderColor: '#000', borderWidth: 0.8, backgroundColor: '#fff'});

    xAxes.push({
        gridIndex: i, type: 'value', min: 0, max: 1000, interval: 100,
        name: 'Iterations', nameLocation: 'middle', nameGap: 10,
        nameTextStyle: {fontSize: 6.5, color: '#000', fontFamily: fontName},
        axisLine: {show: true, lineStyle: {color: '#000', width: 0.8}},
        axisTick: {show: true, inside: true, length: 2.5, lineStyle: {color: '#000', width: 0.6}},
        axisLabel: {fontSize: 5.5, color: '#000', margin: 2.5, fontFamily: fontName,
            formatter: function (v) { return String(v); }},
        splitLine: {show: false}
    });

    yAxes.push({
        gridIndex: i, type: 'log', logBase: 10, min: yRange[i][0], max: yRange[i][1],
        name: 'Fitness', nameLocation: 'middle', nameGap: 15.5, nameRotate: 90,
        nameTextStyle: {fontSize: 6.5, color: '#000', fontFamily: fontName},
        axisLine: {show: true, lineStyle: {color: '#000', width: 0.8}},
        axisTick: {show: true, inside: true, length: 2.5, customValues: ticks, lineStyle: {color: '#000', width: 0.6}},
        axisLabel: {
            customValues: ticks, fontSize: 5.5, color: '#000', margin: 2.5, fontFamily: fontName,
            formatter: function (v) {
                if (decade) {
                    return '{b|10}{e|' + Math.round(Math.log10(v)) + '}';
                }
                return String(Math.round(v));
            },
            rich: {
                b: {fontSize: 5.5, color: '#000', fontFamily: fontName, verticalAlign: 'bottom', lineHeight: 9},
                e: {fontSize: 4, color: '#000', fontFamily: fontName, verticalAlign: 'top', lineHeight: 9}
            }
        },
        splitLine: {show: false}
    });

    titles.push({
        text: name, left: left + plotWidth / 2, top: Math.max(0, top - 7.5), textAlign: 'center',
        padding: 0,
        textStyle: {fontSize: 6.5, fontWeight: 'normal', color: '#000', fontFamily: fontName}
    });

    legends.push({
        data: algorithms, orient: 'vertical', selectedMode: false,
        right: 685 - (left + plotWidth - 4), top: top + 5,
        itemWidth: 17, itemHeight: 3.8, itemGap: 1.85, itemStyle: {borderWidth: 0.4},
        lineStyle: {width: 1},
        padding: [1.5, 3, 1.5, 2],
        borderColor: '#000', borderWidth: 0.8, backgroundColor: '#fff',
        textStyle: {fontSize: 5.5, lineHeight: 6, color: '#000', fontFamily: fontName}
    });

    panelData[i].forEach(function (vals, k) {
        series.push({
            type: 'line', name: algorithms[k], xAxisIndex: i, yAxisIndex: i,
            data: vals.map(function (v, j) { return [iterations[j], v]; }),
            symbol: markers[k], symbolSize: 3.4, symbolRotate: markerRotate[k],
            showSymbol: true, silent: true,
            lineStyle: {color: lineColors[k], width: (k >= 10 ? 1.2 : 0.9)},
            itemStyle: {color: lineColors[k], borderColor: lineColors[k], borderWidth: 0.5},
            emphasis: {disabled: true}
        });
    });
});

var chart = echarts.init(document.getElementById('main'), null, {renderer: 'canvas'});
chart.setOption({
    animation: false,
    backgroundColor: '#fff',
    textStyle: {fontFamily: fontName},
    title: titles,
    legend: legends,
    grid: grids,
    xAxis: xAxes,
    yAxis: yAxes,
    series: series
});
window.addEventListener('resize', function () { chart.resize(); });
</script>
</body>
</html>
